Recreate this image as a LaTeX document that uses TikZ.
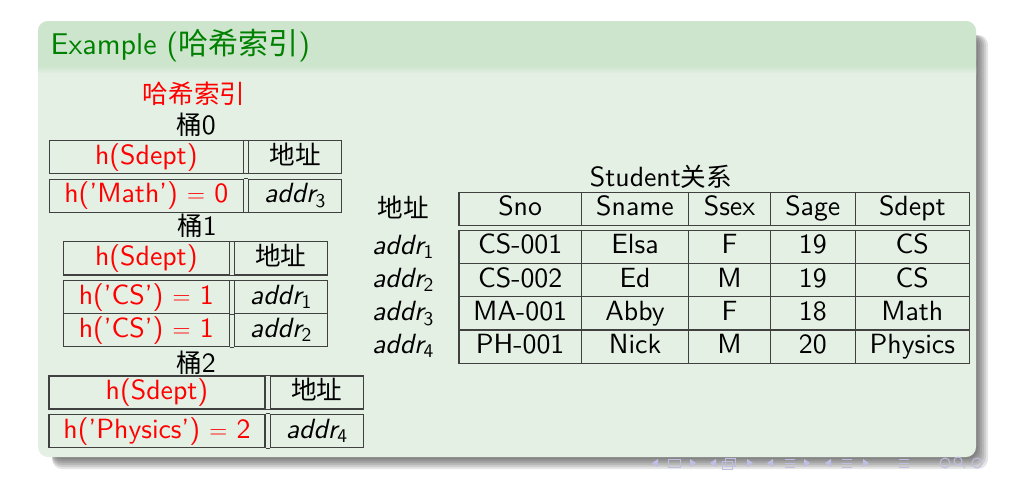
\documentclass[tikz,border=0pt]{standalone}
\usepackage{amsmath}
\usepackage{fontspec}
\setsansfont{lmsans10-regular}[Extension=.otf,ItalicFont=lmsans10-oblique,BoldFont=lmsans10-bold]
\newfontfamily\cjk{Noto Sans CJK SC}
\usetikzlibrary{positioning}
\definecolor{blockhead}{RGB}{204,229,204}
\definecolor{blockbody}{RGB}{229,240,229}
\definecolor{titlegreen}{RGB}{0,128,0}
\definecolor{navcol}{RGB}{190,190,228}
\tikzset{
  rule/.style={draw=black!75,line width=1.1pt},
  cell/.style={rule,inner sep=0pt,text height=19pt,text depth=5pt},
  lbl/.style={inner sep=0pt,text height=19pt,text depth=5pt},
}
\newcommand{\addr}[1]{$\textit{addr}_{\textup{#1}}$}

\begin{document}
\begin{tikzpicture}[x=1pt,y=-1pt,font=\fontsize{27.8}{32}\selectfont\sffamily]
    \useasboundingbox (0,0) rectangle (1026,480);
    \fill[white] (0,0) rectangle (1026,480);
    % block with shadow
    \foreach \s in {2,4,...,12}
      \fill[black,opacity=0.1,rounded corners=10] (52,35) rectangle (976+\s,457+\s);
    \fill[blockbody,rounded corners=10] (38,21) rectangle (976,457);
    \fill[blockhead,rounded corners=10] (38,21) rectangle (976,70);
    \fill[blockhead] (38,50) rectangle (976,66);
    \shade[top color=blockhead,bottom color=blockbody] (38,66) rectangle (976,74);
    \node (title) at (50.5,54.5) [anchor=base west,inner sep=0pt,text=titlegreen,font=\fontsize{30}{36}\selectfont\sffamily]{Example ({\cjk 哈希索引})};
    % hash index
    \node (hash) at (194,96) [lbl,text=red,font=\fontsize{25.6}{30}\selectfont\cjk]{哈希索引};
    % bucket 0
    \node (b0) at (196,127) [lbl]{{\cjk\fontsize{25.6}{30}\selectfont 桶}0};
    \node (b0hl) at (146.3,157) [cell,minimum width=194,minimum height=32.6,text=red]{h(Sdept)};
    \node (b0hr) at (295,157) [cell,minimum width=93.4,minimum height=32.6,font=\fontsize{25.6}{30}\selectfont\cjk]{地址};
    \node (b0al) at (146.3,195.7) [cell,minimum width=194,minimum height=32.7,text=red]{h('Math') $=$ 0};
    \node (b0ar) at (295,195.7) [cell,minimum width=93.4,minimum height=32.7]{\addr{3}};
    % bucket 1
    \node (b1) at (197,228) [lbl]{{\cjk\fontsize{25.6}{30}\selectfont 桶}1};
    \node (b1hl) at (146.3,258.3) [cell,minimum width=166,minimum height=33.3,text=red]{h(Sdept)};
    \node (b1hr) at (280.9,258.3) [cell,minimum width=93.7,minimum height=33.3,font=\fontsize{25.6}{30}\selectfont\cjk]{地址};
    \node (b1al) at (146.3,297.2) [cell,minimum width=166,minimum height=33,text=red]{h('CS') $=$ 1};
    \node (b1ar) at (280.9,297.2) [cell,minimum width=93.7,minimum height=33]{\addr{1}};
    \node (b1bl) at (146.3,330.2) [cell,minimum width=166,minimum height=33,text=red]{h('CS') $=$ 1};
    \node (b1br) at (280.9,330.2) [cell,minimum width=93.7,minimum height=33]{\addr{2}};
    % bucket 2
    \node (b2) at (196,365) [lbl]{{\cjk\fontsize{25.6}{30}\selectfont 桶}2};
    \node (b2hl) at (157,392.5) [cell,minimum width=216,minimum height=33,text=red]{h(Sdept)};
    \node (b2hr) at (316.7,392.5) [cell,minimum width=93.3,minimum height=33,font=\fontsize{25.6}{30}\selectfont\cjk]{地址};
    \node (b2al) at (157,431) [cell,minimum width=216,minimum height=33.4,text=red]{h('Physics') $=$ 2};
    \node (b2ar) at (316.7,431) [cell,minimum width=93.3,minimum height=33.4]{\addr{4}};
    % rules across the double lines
    \draw[rule] (b0hl.north east) -- (b0hr.north west) (b0hl.south east) -- (b0hr.south west);
    \draw[rule] (b0al.north east) -- (b0ar.north west) (b0al.south east) -- (b0ar.south west);
    \draw[rule] (b1hl.north east) -- (b1hr.north west) (b1hl.south east) -- (b1hr.south west);
    \draw[rule] (b1al.north east) -- (b1ar.north west) (b1al.south east) -- (b1ar.south west);
    \draw[rule] (b1bl.south east) -- (b1br.south west);
    \draw[rule] (b2hl.north east) -- (b2hr.north west) (b2hl.south east) -- (b2hr.south west);
    \draw[rule] (b2al.north east) -- (b2ar.north west) (b2al.south east) -- (b2ar.south west);
    % addresses
    \node (addrh) at (403,210) [lbl,font=\fontsize{25.6}{30}\selectfont\cjk]{地址};
    \node (addr1) at (403,247) [lbl]{\addr{1}};
    \node (addr2) at (403,280.2) [lbl]{\addr{2}};
    \node (addr3) at (403,313.4) [lbl]{\addr{3}};
    \node (addr4) at (403,346.7) [lbl]{\addr{4}};
    % Student relation
    \node (rel) at (661,179) [lbl]{Student{\cjk\fontsize{25.6}{30}\selectfont 关系}};
    \node (h1) at (520.15,208.7) [cell,minimum width=122.3,minimum height=32.7]{Sno};
    \node (h2) at (635,208.7) [cell,minimum width=107.4,minimum height=32.7]{Sname};
    \node (h3) at (729.5,208.7) [cell,minimum width=81.6,minimum height=32.7]{Ssex};
    \node (h4) at (812.8,208.7) [cell,minimum width=85,minimum height=32.7]{Sage};
    \node (h5) at (912.3,208.7) [cell,minimum width=114,minimum height=32.7]{Sdept};
    % rows
    \node (r1c1) at (520.15,246.9) [cell,minimum width=122.3,minimum height=33.25]{CS-001};
    \node (r1c2) at (635,246.9) [cell,minimum width=107.4,minimum height=33.25]{Elsa};
    \node (r1c3) at (729.5,246.9) [cell,minimum width=81.6,minimum height=33.25]{F};
    \node (r1c4) at (812.8,246.9) [cell,minimum width=85,minimum height=33.25]{19};
    \node (r1c5) at (912.3,246.9) [cell,minimum width=114,minimum height=33.25]{CS};
    \node (r2c1) at (520.15,280.2) [cell,minimum width=122.3,minimum height=33.25]{CS-002};
    \node (r2c2) at (635,280.2) [cell,minimum width=107.4,minimum height=33.25]{Ed};
    \node (r2c3) at (729.5,280.2) [cell,minimum width=81.6,minimum height=33.25]{M};
    \node (r2c4) at (812.8,280.2) [cell,minimum width=85,minimum height=33.25]{19};
    \node (r2c5) at (912.3,280.2) [cell,minimum width=114,minimum height=33.25]{CS};
    \node (r3c1) at (520.15,313.4) [cell,minimum width=122.3,minimum height=33.25]{MA-001};
    \node (r3c2) at (635,313.4) [cell,minimum width=107.4,minimum height=33.25]{Abby};
    \node (r3c3) at (729.5,313.4) [cell,minimum width=81.6,minimum height=33.25]{F};
    \node (r3c4) at (812.8,313.4) [cell,minimum width=85,minimum height=33.25]{18};
    \node (r3c5) at (912.3,313.4) [cell,minimum width=114,minimum height=33.25]{Math};
    \node (r4c1) at (520.15,346.7) [cell,minimum width=122.3,minimum height=33.25]{PH-001};
    \node (r4c2) at (635,346.7) [cell,minimum width=107.4,minimum height=33.25]{Nick};
    \node (r4c3) at (729.5,346.7) [cell,minimum width=81.6,minimum height=33.25]{M};
    \node (r4c4) at (812.8,346.7) [cell,minimum width=85,minimum height=33.25]{20};
    \node (r4c5) at (912.3,346.7) [cell,minimum width=114,minimum height=33.25]{Physics};
    % navigation symbols
    \foreach \x in {655,713,770,828}
      \fill[navcol] (\x+3,459) -- (\x-3,463) -- (\x+3,467) -- cycle;
    \foreach \x in {693,750,807,866}
      \fill[navcol] (\x-3,459) -- (\x+3,463) -- (\x-3,467) -- cycle;
    \draw[navcol,line width=1pt] (668,459) rectangle (680,467);
    \draw[navcol,line width=1pt] (722,461) rectangle (732,469) (725,458) rectangle (735,466);
    \foreach \x in {790,847,904}
      \draw[navcol,line width=1pt] (\x-5,459) -- (\x+5,459) (\x-5,463) -- (\x+5,463) (\x-5,467) -- (\x+5,467);
    \draw[navcol,line width=1pt] (945,463) circle (5);
    \draw[navcol,line width=1pt] (958,461) circle (4) (961,464) -- (965,468);
    \draw[navcol,line width=1pt] (977,463) circle (5);
  \end{tikzpicture}
\end{document}
